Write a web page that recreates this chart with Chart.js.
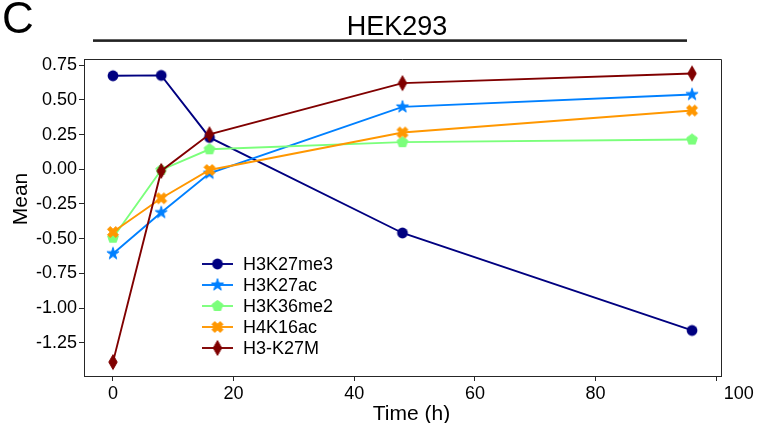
<!DOCTYPE html>
<html><head><meta charset="utf-8">
<script src="https://cdn.jsdelivr.net/npm/chart.js@4/dist/chart.umd.min.js"></script>
<style>html,body{margin:0;padding:0;background:#fff}#wrap{width:758px;height:423px;position:relative}</style>
</head><body><div id="wrap"><canvas id="c" width="758" height="423"></canvas></div>
<script>
const timePoints = [0, 8, 16, 48, 96];
const seriesNames = ['H3K27me3', 'H3K27ac', 'H3K36me2', 'H4K16ac', 'H3-K27M'];
const h3k27me3 = [0.673, 0.676, 0.229, -0.459, -1.161];
const h3k27ac  = [-0.608, -0.312, -0.029, 0.449, 0.538];
const h3k36me2 = [-0.493, -0.005, 0.144, 0.195, 0.214];
const h4k16ac  = [-0.452, -0.209, -0.005, 0.265, 0.423];
const h3k27m   = [-1.389, -0.012, 0.252, 0.620, 0.690];
const xTicks = [0, 20, 40, 60, 80, 100];
const xTickLabels = ['0', '20', '40', '60', '80', '\u00a0\u00a0\u00a0\u00a0\u00a0\u00a0\u00a0\u00a0\u00a0100'];
const yTicks = [-1.25, -1.0, -0.75, -0.5, -0.25, 0, 0.25, 0.5, 0.75];
const yTickLabels = ['-1.25', '-1.00', '-0.75', '-0.50', '-0.25', '0.00', '0.25', '0.50', '0.75'];
const colors = ['#000080', '#0080ff', '#7bff7b', '#ff9700', '#800000'];

const FONT = '"Liberation Sans", Arial, sans-serif';

function mk(size, color, draw) {
  const c = document.createElement('canvas');
  c.width = size; c.height = size;
  const g = c.getContext('2d');
  g.translate(size / 2, size / 2);
  g.fillStyle = color; g.strokeStyle = color; g.lineWidth = 1; g.lineJoin = 'round';
  draw(g);
  return c;
}
function poly(g, pts) { g.beginPath(); pts.forEach((p, i) => i ? g.lineTo(p[0], p[1]) : g.moveTo(p[0], p[1])); g.closePath(); g.fill(); g.stroke(); }

const circleMarker = mk(14, colors[0], g => { g.beginPath(); g.arc(0, 0, 5.4, 0, Math.PI * 2); g.fill(); });
const starMarker = mk(16, colors[1], g => {
  const pts = []; const R = 6.4;
  for (let i = 0; i < 10; i++) { const r = i % 2 ? R * 0.382 : R; const a = -Math.PI / 2 + i * Math.PI / 5; pts.push([r * Math.cos(a), r * Math.sin(a)]); }
  poly(g, pts);
});
const pentMarker = mk(16, colors[2], g => {
  const pts = []; const R = 5.6;
  for (let i = 0; i < 5; i++) { const a = -Math.PI / 2 + i * 2 * Math.PI / 5; pts.push([R * Math.cos(a), R * Math.sin(a)]); }
  poly(g, pts);
});
const xMarker = mk(16, colors[3], g => {
  const s = 11;
  const base = [[-0.25,-0.5],[0,-0.25],[0.25,-0.5],[0.5,-0.25],[0.25,0],[0.5,0.25],[0.25,0.5],[0,0.25],[-0.25,0.5],[-0.5,0.25],[-0.25,0],[-0.5,-0.25]];
  poly(g, base.map(p => [p[0] * s, p[1] * s]));
});
const dMarker = mk(18, colors[4], g => {
  poly(g, [[0, -7.4], [4.2, 0], [0, 7.4], [-4.2, 0]]);
});
const markers = [circleMarker, starMarker, pentMarker, xMarker, dMarker];
const seriesValues = [h3k27me3, h3k27ac, h3k36me2, h4k16ac, h3k27m];

const datasets = seriesNames.map((name, i) => ({
  label: name,
  data: timePoints.map((t, j) => ({ x: t, y: seriesValues[i][j] })),
  borderColor: colors[i],
  backgroundColor: colors[i],
  borderWidth: 1.9,
  pointStyle: markers[i],
  pointRadius: 5,
  pointBorderWidth: 0,
  tension: 0,
  order: seriesNames.length - 1 - i
}));

const deco = {
  id: 'deco',
  afterDraw(chart) {
    const { ctx, chartArea: a } = chart;
    ctx.save();
    ctx.strokeStyle = '#262626'; ctx.lineWidth = 1;
    ctx.beginPath();
    ctx.moveTo(a.left, Math.round(a.top) + 0.5);
    ctx.lineTo(Math.round(a.right) + 0.5, Math.round(a.top) + 0.5);
    ctx.lineTo(Math.round(a.right) + 0.5, a.bottom);
    ctx.stroke();
    ctx.fillStyle = '#000';
    ctx.font = '44px ' + FONT; ctx.textAlign = 'left'; ctx.textBaseline = 'alphabetic';
    ctx.fillText('C', 2, 33);
    ctx.font = '27px ' + FONT; ctx.textAlign = 'center';
    ctx.fillText('HEK293', 397, 35);
    ctx.fillStyle = '#222';
    ctx.fillRect(93, 39.3, 594, 2.6);
    ctx.fillStyle = '#000';
    ctx.font = '21px ' + FONT;
    ctx.fillText('Time (h)', 411.5, 420);
    ctx.save(); ctx.translate(27, 199); ctx.rotate(-Math.PI / 2); ctx.fillText('Mean', 0, 0); ctx.restore();
    const rows = [264, 285, 306, 327, 348];
    chart.data.datasets.forEach((ds, i) => {
      const y = rows[i];
      ctx.strokeStyle = ds.borderColor; ctx.lineWidth = 1.9;
      ctx.beginPath(); ctx.moveTo(202, y); ctx.lineTo(233, y); ctx.stroke();
      const m = ds.pointStyle;
      ctx.drawImage(m, 217.5 - m.width / 2, y - m.height / 2);
      ctx.fillStyle = '#000'; ctx.font = '18px ' + FONT; ctx.textAlign = 'left'; ctx.textBaseline = 'middle';
      ctx.fillText(ds.label, 243, y + 1);
    });
    ctx.restore();
  }
};

new Chart(document.getElementById('c'), {
  type: 'line',
  data: { datasets },
  plugins: [deco],
  options: {
    responsive: false,
    animation: false,
    layout: { padding: { left: 0, top: 59, right: 37, bottom: 0 } },
    plugins: { legend: { display: false }, tooltip: { enabled: false }, title: { display: false } },
    scales: {
      x: {
        type: 'linear', min: -4.8, max: 100.8,
        afterBuildTicks: s => { s.ticks = xTicks.map(v => ({ value: v })); },
        afterFit: s => { s.height = 47; },
        ticks: { font: { family: FONT, size: 18 }, color: '#000', padding: 2, maxRotation: 0, autoSkip: false, callback: (v, i) => xTickLabels[i] },
        grid: { drawOnChartArea: false, drawTicks: true, tickLength: 5, tickColor: '#262626' },
        border: { display: true, color: '#262626', width: 1 }
      },
      y: {
        type: 'linear', min: -1.489, max: 0.794,
        afterBuildTicks: s => { s.ticks = yTicks.map(v => ({ value: v })); },
        afterFit: s => { s.width = 84; },
        ticks: { font: { family: FONT, size: 18 }, color: '#000', padding: 2, autoSkip: false, callback: (v, i) => yTickLabels[i] },
        grid: { drawOnChartArea: false, drawTicks: true, tickLength: 5, tickColor: '#262626' },
        border: { display: true, color: '#262626', width: 1 }
      }
    }
  }
});
</script>
</body></html>
